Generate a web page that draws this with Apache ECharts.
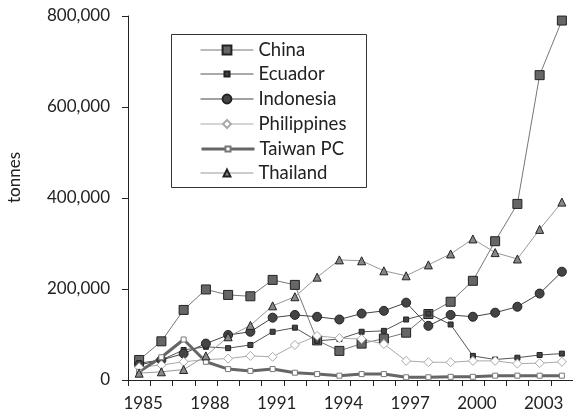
<!DOCTYPE html>
<html>
<head>
<meta charset="utf-8">
<script src="https://cdn.jsdelivr.net/npm/echarts@6/dist/echarts.min.js"></script>
<style>html,body{margin:0;padding:0;background:#fff}#c{width:573px;height:414px}</style>
</head>
<body>
<div id="c"></div>
<script>
var years = ['1985','1986','1987','1988','1989','1990','1991','1992','1993','1994','1995','1996','1997','1998','1999','2000','2001','2002','2003','2004'];
var china      = [44000, 85000, 154000, 199000, 187000, 184000, 220000, 209000, 87000, 64000, 80000, 91000, 104000, 145000, 172000, 218000, 305000, 387000, 670000, 790000];
var ecuador    = [37000, 44000, 66000, 73000, 70000, 77000, 106000, 115000, 86000, 90000, 106000, 108000, 133000, 146000, 122000, 53000, 45000, 49000, 55000, 58000];
var indonesia  = [33000, 44000, 58000, 80000, 99000, 106000, 137000, 143000, 139000, 133000, 146000, 152000, 170000, 119000, 143000, 139000, 148000, 161000, 190000, 238000];
var philippines= [28000, 33000, 40000, 45000, 47000, 53000, 51000, 77000, 97000, 92000, 90000, 79000, 42000, 39000, 39000, 42000, 42000, 36000, 37000, 40000];
var taiwan     = [18000, 50000, 89000, 40000, 24000, 20000, 24000, 16000, 13000, 9500, 13000, 13000, 6000, 6000, 7000, 7000, 9500, 9500, 9500, 9500];
var thailand   = [15000, 18000, 23000, 53000, 95000, 120000, 163000, 183000, 226000, 264000, 262000, 240000, 229000, 253000, 277000, 310000, 280000, 266000, 331000, 391000];
var seriesNames = ['China','Ecuador','Indonesia','Philippines','Taiwan PC','Thailand'];
var yTicks = [0, 200000, 400000, 600000, 800000];

var chart = echarts.init(document.getElementById('c'), null, {renderer: 'canvas'});
var font = 'Lato, "Open Sans", sans-serif';
function s(name, data, symbol, size, fill, border, line, lw) {
  return {
    name: name, type: 'line', data: data, symbol: symbol, symbolSize: size,
    showAllSymbol: true,
    lineStyle: {color: line, width: lw},
    itemStyle: {color: fill, borderColor: border, borderWidth: 1},
    emphasis: {disabled: true},
    animation: false
  };
}
// legend layout (style only)
var legendCenters = [50, 74, 99, 124, 149, 173];
var legendIconH = [11, 6.3, 11, 10, 6.3, 8.5];
var legendLineW = [1, 1, 1, 1, 3, 1];
var legends = seriesNames.map(function (n, i) {
  return {
    orient: 'vertical', left: 200, top: legendCenters[i] - 9.5, padding: 0,
    itemWidth: 53, itemHeight: legendIconH[i],
    lineStyle: {width: legendLineW[i]},
    textStyle: {fontSize: 18.5, color: '#222', fontFamily: font},
    selectedMode: false,
    data: [n]
  };
});
chart.setOption({
  animation: false,
  backgroundColor: '#fff',
  textStyle: {fontFamily: font},
  grid: {left: 128, right: -1, top: 16, bottom: 34, containLabel: false},
  legend: legends,
  xAxis: {
    type: 'category', data: years, boundaryGap: true,
    axisLine: {lineStyle: {color: '#222', width: 1}},
    axisTick: {show: true, interval: 0, length: 6, lineStyle: {color: '#222'}},
    axisLabel: {interval: 2, fontSize: 17, color: '#222', margin: 15, padding: [0, 0, 0, 8], fontFamily: font}
  },
  yAxis: {
    type: 'value', min: 0, max: 800000, interval: 200000,
    axisLine: {show: true, lineStyle: {color: '#222', width: 1}},
    axisTick: {show: true, length: 6, lineStyle: {color: '#222'}},
    splitLine: {show: false},
    axisLabel: {fontSize: 17, color: '#222', margin: 18, fontFamily: font,
      formatter: function (v) { return yTicks.indexOf(v) >= 0 ? v.toLocaleString('en-US') : ''; }}
  },
  graphic: [{
    type: 'text', left: 6, top: 152, rotation: Math.PI / 2,
    style: {text: 'tonnes', fontSize: 17, fill: '#222', fontFamily: font}
  }, {
    type: 'rect', left: 171, top: 34, z: -1,
    shape: {width: 195, height: 153},
    style: {fill: '#fff', stroke: '#333', lineWidth: 1}
  }],
  series: [
    s('China', china, 'rect', 9, '#666', '#222', '#777', 1),
    s('Ecuador', ecuador, 'rect', 5, '#444', '#222', '#555', 1),
    s('Indonesia', indonesia, 'circle', 9, '#444', '#222', '#444', 1),
    s('Philippines', philippines, 'diamond', 9, '#fff', '#aaa', '#aaa', 1),
    s('Taiwan PC', taiwan, 'rect', 5, '#fff', '#777', '#666', 3),
    s('Thailand', thailand, 'triangle', 8, '#888', '#222', '#999', 1)
  ]
});
</script>
</body>
</html>
